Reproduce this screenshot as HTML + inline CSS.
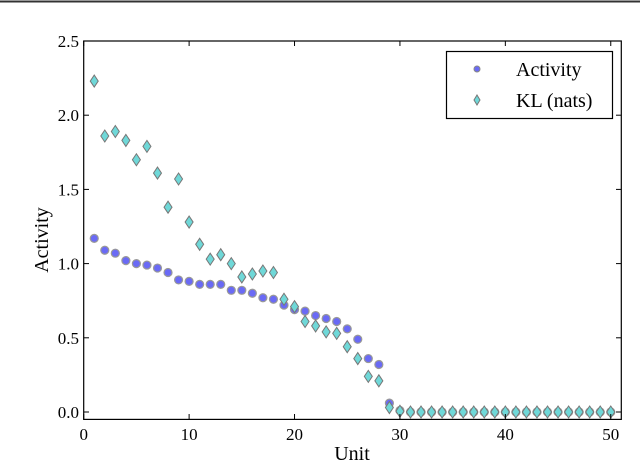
<!DOCTYPE html>
<html><head><meta charset="utf-8"><style>
body{margin:0;background:#fff;}
svg{display:block;font-family:"Liberation Serif",serif;}
</style></head><body>
<svg id="chart" width="640" height="461">
<line x1="0" y1="1.5" x2="640" y2="1.5" stroke="#333" stroke-width="2"/>
<g id="marks"></g>
<rect x="83.7" y="41" width="537.6" height="378.4" fill="none" stroke="#000" stroke-width="1.2"/>
<g id="axes"></g>
<g>
<rect x="446.5" y="51.5" width="166" height="67" fill="#fff" stroke="#000" stroke-width="1.2"/>
<circle cx="477" cy="69" r="3" fill="#6a6af5" stroke="#888" stroke-width="1"/>
<text x="516" y="76" font-size="20">Activity</text>
<path d="M477,95 l3,5 l-3,5 l-3,-5z" fill="#6fd8d8" stroke="#777" stroke-width="1"/>
<text x="516" y="107" font-size="20">KL (nats)</text>
</g>
<text x="352" y="460" font-size="20" text-anchor="middle">Unit</text>
<text x="48" y="240" font-size="20" text-anchor="middle" transform="rotate(-90 48 240)">Activity</text>
</svg>
<script>
const units = Array.from({length:50},(_,i)=>i+1);
const activity = [1.17,1.09,1.07,1.02,1.00,0.99,0.97,0.94,0.89,0.88,0.86,0.86,0.86,0.82,0.82,0.80,0.77,0.76,0.72,0.69,0.68,0.65,0.63,0.61,0.56,0.49,0.36,0.32,0.06,0.01,0,0,0,0,0,0,0,0,0,0,0,0,0,0,0,0,0,0,0,0];
const kl = [2.23,1.86,1.89,1.83,1.70,1.79,1.61,1.38,1.57,1.28,1.13,1.03,1.06,1.00,0.91,0.93,0.95,0.94,0.76,0.71,0.61,0.58,0.54,0.53,0.44,0.36,0.24,0.21,0.03,0.005,0,0,0,0,0,0,0,0,0,0,0,0,0,0,0,0,0,0,0,0];
const xTicks = [0,10,20,30,40,50];
const yTicks = [0.0,0.5,1.0,1.5,2.0,2.5];
const NS="http://www.w3.org/2000/svg";
const xs = v => 83.7 + v*(537.6/51);
const ys = v => 412 - v*148.4;
const marks=document.getElementById('marks'), axes=document.getElementById('axes');
function mk(tag,attrs,parent){const e=document.createElementNS(NS,tag);for(const k in attrs)e.setAttribute(k,attrs[k]);parent.appendChild(e);return e;}
units.forEach((u,i)=>{
  const c=mk('circle',{cx:xs(u),cy:ys(activity[i]),r:4,fill:'#6a6af5',stroke:'#999','stroke-width':1.2},marks);
  
  
});
units.forEach((u,i)=>{
  const x=xs(u),y=ys(kl[i]);
  const p=mk('path',{d:`M${x},${y-6} L${x+4},${y} L${x},${y+6} L${x-4},${y}Z`,fill:'#6fd8d8',stroke:'#777','stroke-width':1},marks);
  
  
});
xTicks.forEach(t=>{
  const x=xs(t);
  mk('line',{x1:x,y1:419.4,x2:x,y2:414,stroke:'#000'},axes);
  mk('line',{x1:x,y1:41,x2:x,y2:46,stroke:'#000'},axes);
  const l=mk('text',{x:x,y:440,'font-size':17,'text-anchor':'middle'},axes);
  l.textContent=t;
  
  
});
yTicks.forEach(t=>{
  const y=ys(t);
  mk('line',{x1:83.7,y1:y,x2:89,y2:y,stroke:'#000'},axes);
  mk('line',{x1:621.3,y1:y,x2:616,y2:y,stroke:'#000'},axes);
  const l=mk('text',{x:79,y:y+6,'font-size':17,'text-anchor':'end'},axes);
  l.textContent=t.toFixed(1);
  
  
});
</script>
</body></html>
